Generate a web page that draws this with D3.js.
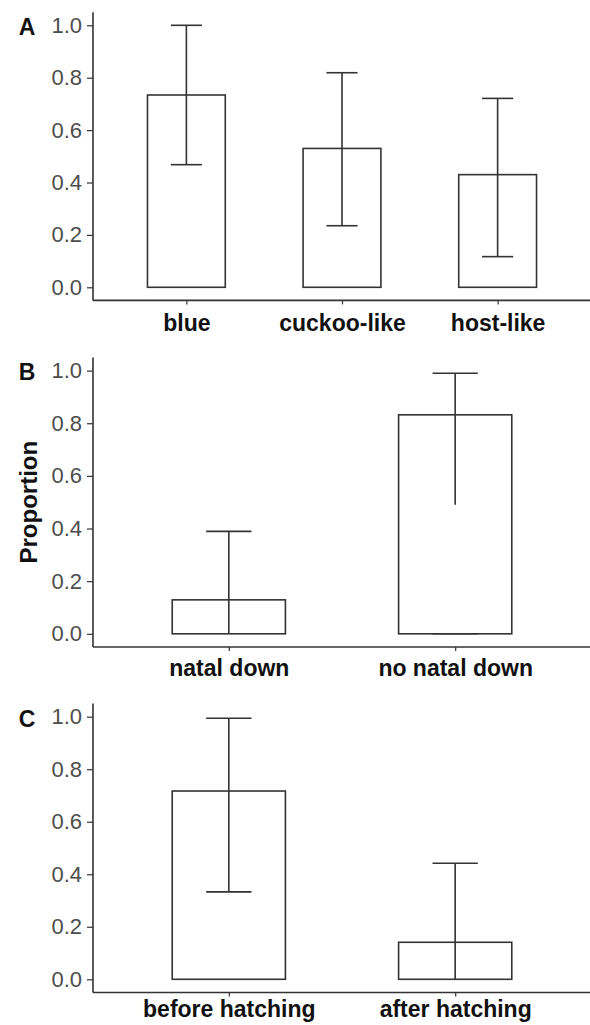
<!DOCTYPE html>
<html>
<head>
<meta charset="utf-8">
<script src="https://cdn.jsdelivr.net/npm/d3@7"></script>
<style>
  html, body { margin: 0; padding: 0; background: #fff; }
  svg { display: block; }
</style>
</head>
<body>
<svg id="chart" width="590" height="1025"></svg>
<script>
// Panel A: egg colour
const catsA = ["blue", "cuckoo-like", "host-like"];
const propA = [0.734, 0.530, 0.430];
const lowA  = [0.468, 0.235, 0.117];
const highA = [1.000, 0.819, 0.721];

// Panel B: natal down
const catsB = ["natal down", "no natal down"];
const propB = [0.129, 0.832];
const lowB  = [0.000, 0.490];
const highB = [0.389, 0.990];

// Panel C: timing
const catsC = ["before hatching", "after hatching"];
const propC = [0.717, 0.141];
const lowC  = [0.333, 0.000];
const highC = [0.994, 0.442];

const yTicks = [0, 0.2, 0.4, 0.6, 0.8, 1.0];
const yTitle = "Proportion";

const svg = d3.select("#chart");
const axisColor = "#333";
const tickText = "#4d4d4d";
const font = "'Liberation Sans', Arial, sans-serif";

const panels = [
  { tag: "A", cats: catsA, prop: propA, low: lowA, high: highA, zero: 287.3, one: 25.3, labOff: 31, tagY: 34.5 },
  { tag: "B", cats: catsB, prop: propB, low: lowB, high: highB, zero: 633.8, one: 370.6, labOff: 29, tagY: 380 },
  { tag: "C", cats: catsC, prop: propC, low: lowC, high: highC, zero: 979.3, one: 716.7, labOff: 25, tagY: 727 }
];

const left = 93, right = 591;

panels.forEach(p => {
  const y = d3.scaleLinear().domain([0, 1]).range([p.zero, p.one]);
  const yMin = -0.05, yMax = 1.05;
  // discrete axis, 0.6 step of padding on both ends
  const x = d3.scalePoint().domain(p.cats).range([left, right]).padding(0.6);
  const step = x.step();
  const g = svg.append("g");

  // bars
  g.selectAll("rect.bar").data(p.cats).join("rect")
    .attr("x", (d) => x(d) - step * 0.25)
    .attr("width", step * 0.5)
    .attr("y", (d, i) => y(p.prop[i]))
    .attr("height", (d, i) => y(0) - y(p.prop[i]))
    .attr("fill", "#fff")
    .attr("stroke", axisColor)
    .attr("stroke-width", 1.6);

  // error bars
  const eb = g.selectAll("g.err").data(p.cats).join("g");
  eb.append("line")
    .attr("x1", d => x(d)).attr("x2", d => x(d))
    .attr("y1", (d, i) => y(p.low[i])).attr("y2", (d, i) => y(p.high[i]))
    .attr("stroke", axisColor).attr("stroke-width", 1.6);
  eb.append("line")
    .attr("x1", d => x(d) - step * 0.1).attr("x2", d => x(d) + step * 0.1)
    .attr("y1", (d, i) => y(p.high[i])).attr("y2", (d, i) => y(p.high[i]))
    .attr("stroke", axisColor).attr("stroke-width", 1.6);
  eb.filter((d, i) => p.low[i] > 0).append("line")
    .attr("x1", d => x(d) - step * 0.1).attr("x2", d => x(d) + step * 0.1)
    .attr("y1", (d, i) => y(p.low[i])).attr("y2", (d, i) => y(p.low[i]))
    .attr("stroke", axisColor).attr("stroke-width", 1.6);

  // y axis
  const yAxis = d3.axisLeft(y).tickValues(yTicks).tickFormat(d3.format(".1f")).tickSize(6).tickSizeOuter(0).tickPadding(5);
  const ya = g.append("g").attr("transform", `translate(${left},0)`).call(yAxis);
  ya.select(".domain").remove();
  ya.append("line").attr("x1", 0).attr("x2", 0).attr("y1", y(yMin)).attr("y2", y(yMax))
    .attr("stroke", axisColor).attr("stroke-width", 1.6);
  ya.selectAll(".tick line").attr("stroke", axisColor).attr("stroke-width", 1.2);
  ya.selectAll(".tick text")
    .attr("fill", tickText)
    .style("font-family", font)
    .style("font-size", "22px");

  // x axis
  const xAxis = d3.axisBottom(x).tickSize(4).tickSizeOuter(0).tickPadding(6);
  const xa = g.append("g").attr("transform", `translate(0,${y(yMin)})`).call(xAxis);
  xa.select(".domain").remove();
  xa.append("line").attr("x1", left).attr("x2", right).attr("y1", 0).attr("y2", 0)
    .attr("stroke", axisColor).attr("stroke-width", 1.6);
  xa.selectAll(".tick line").attr("stroke", axisColor).attr("stroke-width", 1.2);
  xa.selectAll(".tick text")
    .attr("y", p.labOff).attr("dy", 0)
    .attr("fill", "#111")
    .style("font-family", font)
    .style("font-weight", "bold")
    .style("font-size", "23px");

  // panel tag
  svg.append("text")
    .attr("x", 27).attr("y", p.tagY)
    .attr("text-anchor", "middle")
    .attr("fill", "#111")
    .style("font-family", font)
    .style("font-weight", "bold")
    .style("font-size", "23px")
    .text(p.tag);
});

// shared y title beside the middle panel
svg.append("text")
  .attr("transform", `translate(37,${(panels[1].zero + panels[1].one) / 2}) rotate(-90)`)
  .attr("text-anchor", "middle")
  .attr("fill", "#111")
  .style("font-family", font)
  .style("font-weight", "bold")
  .style("font-size", "24px")
  .text(yTitle);
</script>
</body>
</html>
